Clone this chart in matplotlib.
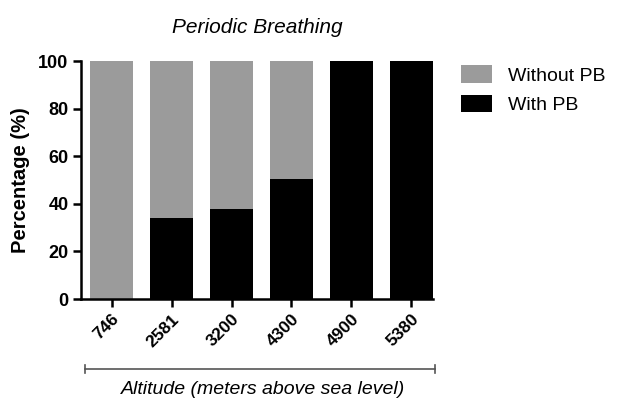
import numpy as np
import matplotlib
matplotlib.use("Agg")
import matplotlib.pyplot as plt
from matplotlib.lines import Line2D

plt.rcParams['font.family'] = ['Liberation Sans', 'DejaVu Sans']

altitudes = ['746', '2581', '3200', '4300', '4900', '5380']
with_pb = [0, 34, 38, 50.5, 100, 100]
without_pb = [100 - v for v in with_pb]

fig = plt.figure(figsize=(6.17, 4.03), dpi=100)
ax = fig.add_axes([0.1313, 0.258, 0.5705, 0.5906])

x = np.arange(len(altitudes))
ax.bar(x, with_pb, width=0.72, color='black', label='With PB')
ax.bar(x, without_pb, bottom=with_pb, width=0.72, color='#9b9b9b', label='Without PB')

ax.set_xlim(-0.51, 5.36)
ax.set_ylim(0, 100)
ax.set_yticks([0, 20, 40, 60, 80, 100])
ax.set_xticks(x)
ax.set_xticklabels(altitudes, rotation=45, ha='right', rotation_mode='anchor',
                   fontweight='bold', fontsize=12.5)
for lab in ax.get_yticklabels():
    lab.set_fontweight('bold')
    lab.set_fontsize(13)
ax.tick_params(width=1.8, length=6, direction='out', pad=3)
ax.spines['top'].set_visible(False)
ax.spines['right'].set_visible(False)
ax.spines['left'].set_linewidth(1.8)
ax.spines['bottom'].set_linewidth(1.8)
ax.set_ylabel('Percentage (%)', fontweight='bold', fontsize=14.5, labelpad=6)
ax.set_title('Periodic Breathing', fontstyle='italic', fontsize=15, pad=20)

# bracket under the x axis
y_br = 1 - 369 / 403
x0, x1 = 85 / 617, 435 / 617
fig.add_artist(Line2D([x0, x1], [y_br, y_br], color='#555555', lw=1.2))
for xx in (x0, x1):
    fig.add_artist(Line2D([xx, xx], [y_br - 0.011, y_br + 0.011], color='#555555', lw=1.2))
fig.text((x0 + x1) / 2 + 0.005, 1 - 390 / 403, 'Altitude (meters above sea level)',
         fontstyle='italic', fontsize=14, ha='center', va='center')

handles, labels = ax.get_legend_handles_labels()
ax.legend(handles[::-1], labels[::-1], loc='upper left', bbox_to_anchor=(1.03, 1.055),
          frameon=False, fontsize=14, handlelength=1.6, handleheight=1.0,
          labelspacing=0.5, handletextpad=0.8)

fig.savefig('out.png', dpi=100)
